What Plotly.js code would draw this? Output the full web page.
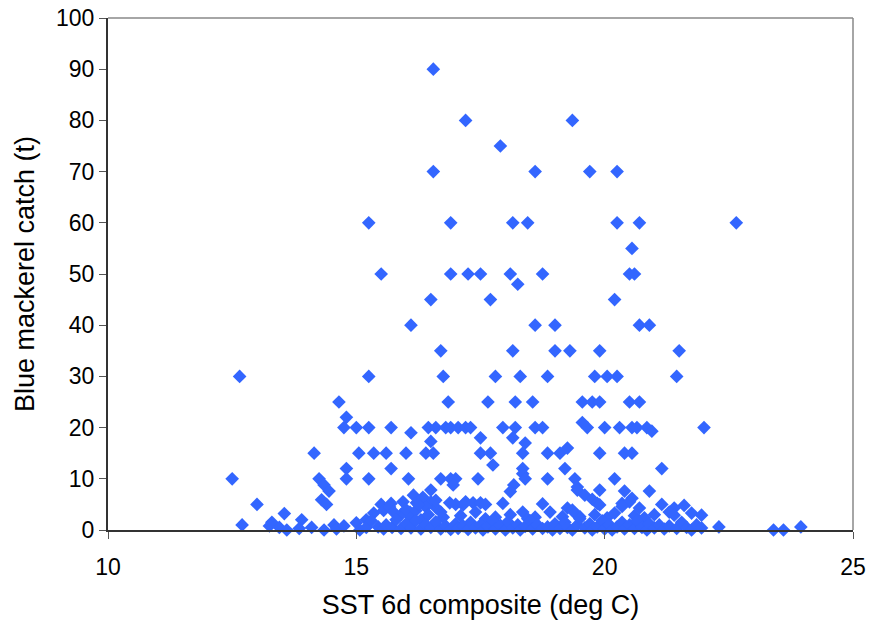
<!DOCTYPE html>
<html>
<head>
<meta charset="utf-8">
<script src="https://cdn.plot.ly/plotly-3.0.1.min.js"></script>
<style>html,body{margin:0;padding:0;background:#fff;}#chart{width:869px;height:637px;}</style>
</head>
<body>
<div id="chart"></div>
<script>
// SST (deg C) and blue mackerel catch (t)
const sstHigh   = [16.55, 17.2, 19.35, 17.9, 16.55, 18.6, 19.7, 20.25, 15.25, 16.9, 18.15, 18.45, 20.25, 20.7, 22.65, 20.55,
                   15.5, 16.9, 17.25, 17.5, 18.1, 18.75, 20.5, 20.6, 18.25, 16.5, 17.7, 20.2,
                   16.1, 18.6, 19.0, 20.7, 20.9, 16.7, 18.15, 19.0, 19.3, 19.9, 21.5,
                   12.65, 15.25, 16.75, 17.8, 18.3, 18.85, 19.8, 20.05, 20.25, 21.45];
const catchHigh = [90, 80, 80, 75, 70, 70, 70, 70, 60, 60, 60, 60, 60, 60, 60, 55,
                   50, 50, 50, 50, 50, 50, 50, 50, 48, 45, 45, 45,
                   40, 40, 40, 40, 40, 35, 35, 35, 35, 35, 35,
                   30, 30, 30, 30, 30, 30, 30, 30, 30, 30];

const sstMid   = [14.65, 16.85, 17.65, 18.2, 18.55, 19.55, 19.75, 19.9, 20.5, 20.7, 14.8, 19.55,
                  14.75, 15.0, 15.25, 15.7, 16.45, 16.6, 16.8, 16.9, 17.05, 17.2, 17.3, 17.95, 18.2, 18.6, 18.75,
                  19.65, 20.0, 20.3, 20.55, 20.65, 20.85, 22.0, 16.1, 20.95, 17.5, 18.15, 16.5, 18.4, 19.25,
                  14.15, 15.05, 15.35, 15.6, 16.0, 16.4, 16.55, 17.5, 17.7, 18.35, 18.85, 19.1, 19.9, 20.4, 20.55,
                  14.8, 15.7, 17.75, 18.35, 19.2, 21.15, 18.35,
                  12.5, 14.25, 14.8, 15.25, 16.05, 16.7, 16.9, 17.0, 17.45, 18.4, 18.85, 19.4, 20.2];
const catchMid = [25, 25, 25, 25, 25, 25, 25, 25, 25, 25, 22, 21,
                  20, 20, 20, 20, 20, 20, 20, 20, 20, 20, 20, 20, 20, 20, 20,
                  20, 20, 20, 20, 20, 20, 20, 19, 19.3, 18, 18, 17.3, 17, 16,
                  15, 15, 15, 15, 15, 15, 15, 15, 15, 15, 15, 15, 15, 15, 15,
                  12, 12, 12.7, 12, 12, 12, 11,
                  10, 10, 10, 10, 10, 10, 10, 10, 10, 10, 10, 10, 10];

const sstLow   = [14.35, 16.95, 18.17, 19.45, 14.45, 16.5, 18.1, 19.45, 19.9, 20.4, 20.9,
                  16.15, 19.6, 14.3, 19.75, 20.55,
                  13.0, 14.4, 15.5, 15.7, 16.5, 17.0, 17.2, 17.35, 17.5, 17.6, 17.95, 18.75, 19.85, 19.9, 20.35, 20.5, 21.15, 21.6,
                  20.35, 20.7, 21.4, 19.25, 19.35, 19.4, 18.35, 21.3, 21.75, 13.55, 15.35, 15.55,
                  15.2, 15.67, 15.94, 16.08, 16.21, 16.34, 16.61, 16.75, 16.88, 17.15,
                  15.9, 16.0, 16.1, 16.2, 16.3, 16.4, 16.25, 15.75, 16.45, 16.6, 16.7,
                  17.1, 17.4, 17.8, 18.1, 18.6, 18.9, 19.15, 19.5, 19.8, 20.05, 20.2, 20.6, 20.8, 21.0, 21.4, 21.95, 17.6, 18.45];
const catchLow = [8.8, 8.8, 8.8, 8.4, 7.6, 7.8, 7.5, 7.8, 7.8, 7.6, 7.6,
                  6.8, 6.8, 5.9, 6, 6.2,
                  5, 5, 5, 5.2, 5.5, 5, 5.5, 5.3, 5.3, 5, 5.2, 5.1, 5.2, 4.9, 5.2, 5.5, 5, 4.8,
                  4.6, 4.3, 4.3, 4.3, 3.9, 3.3, 3.5, 3.5, 3.3, 3.2, 3.3, 3.8,
                  2, 4.5, 5.5, 3.5, 5.3, 6.4, 4.3, 2.5, 5.3, 4.9,
                  3, 4, 2.5, 3.8, 2, 4.5, 5, 3.5, 3, 5.8, 3.5,
                  2.8, 3.5, 2.5, 3, 2.5, 3.5, 2.6, 2.6, 3, 2.4, 3.3, 2.8, 2.4, 3, 2.9, 2.9, 2.2, 2.2];

const sstZero   = [13.3, 13.25, 13.45, 13.6, 13.9, 13.85, 14.1, 14.35, 14.55, 14.6, 14.75,
                   15.0, 15.07, 15.2, 15.3, 15.44, 15.55, 15.6, 15.72, 15.8, 15.9, 16.0, 16.1, 16.2, 16.3, 16.4, 16.5, 16.6, 16.7, 16.8, 16.9,
                   17.0, 17.05, 17.15, 17.25, 17.3, 17.4, 17.5, 17.55, 17.65, 17.75, 17.8, 17.9, 18.0, 18.05, 18.15, 18.25, 18.3, 18.4, 18.5, 18.55,
                   18.65, 18.75, 18.85, 18.95, 19.0, 19.1, 19.2, 19.25, 19.35, 19.45, 19.5, 19.6, 19.7, 19.75, 19.85, 19.95, 20.0, 20.1, 20.15,
                   20.25, 20.35, 20.4, 20.5, 20.6, 20.65, 20.75, 20.85, 20.9, 21.0, 21.1, 21.2, 21.3, 21.45, 21.55, 21.65, 21.75, 21.85, 21.95,
                   22.3, 23.4, 23.6, 23.95, 12.7];
const catchZero = [1.5, 0.8, 0.5, 0, 2, 0.3, 0.5, 0, 1, 0.2, 0.8,
                   1.4, 0, 0.5, 1.8, 0.6, 0.2, 1, 0.5, 2, 0.3, 1.2, 0.4, 1.8, 0.2, 1, 0.5, 1.6, 0.2, 0.8, 0.1,
                   1.2, 0.3, 0.8, 0.1, 1.5, 0.4, 1, 0, 0.6, 1.8, 0.2, 0.9, 0, 1.6, 0.4, 1, 0, 0.7, 1.8, 0.2,
                   1, 0.3, 0.6, 0, 1.2, 0.3, 1.5, 0.5, 0, 1, 2.2, 0.4, 1.2, 0, 0.6, 1.8, 0.2, 1, 0,
                   0.6, 1.5, 0.2, 1, 0.3, 1.8, 0.5, 0, 1.2, 0.4, 1, 0.2, 0.8, 0.3, 1.5, 0.5, 0, 1, 0.4,
                   0.6, 0, 0, 0.6, 1];

const xTicks = [10, 15, 20, 25];
const yTicks = [0, 10, 20, 30, 40, 50, 60, 70, 80, 90, 100];

const x = sstHigh.concat(sstMid, sstLow, sstZero);
const y = catchHigh.concat(catchMid, catchLow, catchZero);

const trace = {
  x: x, y: y, type: 'scatter', mode: 'markers',
  marker: {symbol: 'diamond', size: 10.5, color: '#3366FF', line: {width: 0}},
  hoverinfo: 'x+y', cliponaxis: false
};

const fontFam = 'Liberation Sans, Arial, sans-serif';
const layout = {
  width: 869, height: 637,
  margin: {l: 108, r: 16, t: 18, b: 107},
  paper_bgcolor: '#ffffff', plot_bgcolor: '#ffffff',
  showlegend: false,
  font: {family: fontFam, color: '#000000', size: 23},
  xaxis: {
    range: [10, 25], tickvals: xTicks, ticktext: xTicks.map(String),
    showgrid: false, zeroline: false, showline: true, linecolor: '#333333', linewidth: 2,
    ticks: 'outside', ticklen: 7, tickwidth: 1, tickcolor: '#555555',
    ticklabelstandoff: 8,
    tickfont: {family: fontFam, size: 23, color: '#000'},
    title: {text: 'SST 6d composite (deg C)', font: {family: fontFam, size: 27, color: '#000'}, standoff: 17}
  },
  yaxis: {
    range: [0, 100], tickvals: yTicks, ticktext: yTicks.map(String),
    showgrid: false, zeroline: false, showline: true, linecolor: '#333333', linewidth: 2,
    ticks: 'outside', ticklen: 7, tickwidth: 1, tickcolor: '#555555',
    tickfont: {family: fontFam, size: 23, color: '#000'},
    title: {text: 'Blue mackerel catch (t)', font: {family: fontFam, size: 27, color: '#000'}, standoff: 14}
  },
  shapes: [
    {type: 'line', xref: 'paper', yref: 'paper', x0: 0, x1: 1, y0: 1, y1: 1, line: {color: '#888888', width: 1.5}},
    {type: 'line', xref: 'paper', yref: 'paper', x0: 1, x1: 1, y0: 0, y1: 1, line: {color: '#888888', width: 1.5}}
  ]
};

Plotly.newPlot('chart', [trace], layout, {displayModeBar: false, staticPlot: true});
</script>
</body>
</html>
